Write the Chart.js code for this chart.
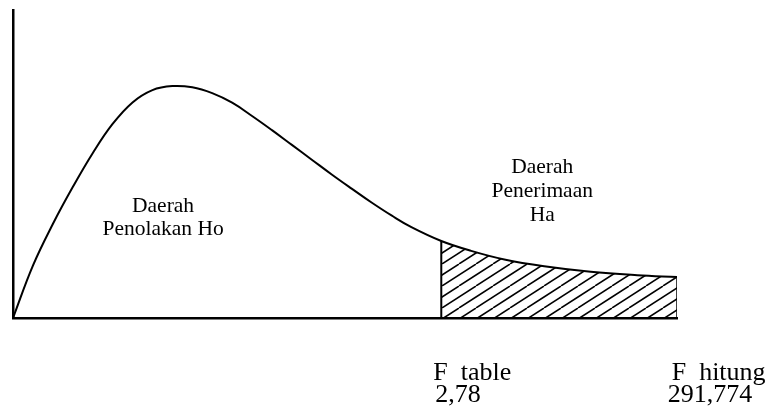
<!DOCTYPE html>
<html>
<head>
<meta charset="utf-8">
<script src="https://cdn.jsdelivr.net/npm/chart.js@4/dist/chart.umd.min.js"></script>
<style>
  html, body { margin: 0; padding: 0; background: #fff; }
  #wrap { width: 771px; height: 407px; }
</style>
</head>
<body>
<div id="wrap"><canvas id="fChart"></canvas></div>
<script>
// curve (x: 0..10, y: 0..100)
var curveX = [0, 0.3, 0.6, 0.9, 1.2, 1.5, 1.8, 2.1, 2.4, 2.7, 3.0, 3.3, 3.6, 3.9,
  4.2, 4.5, 4.8, 5.1, 5.4, 5.7, 6.0, 6.45, 6.9, 7.4, 8.0, 8.7, 9.4, 10.0];
var curveY = [0, 17, 30.5, 42.5, 53.5, 63, 70, 74, 75.3, 74.9, 73, 69.9, 65.6, 61,
  56.2, 51.4, 46.6, 42, 37.5, 33.3, 29.5, 25.0, 21.8, 19.0, 16.8, 15.0, 13.9, 13.3];

var fTable = 6.45;   // F table 2,78
var fHitung = 10.0;  // F hitung 291,774

// text labels
var labelText = ["Daerah", "Penolakan Ho", "Daerah", "Penerimaan", "Ha",
  "F  table", "2,78", "F  hitung", "291,774"];
var labelX = [2.26, 2.26, 7.97, 7.97, 7.97, 6.33, 6.36, 9.92, 9.86];
var labelY = [34.4, 26.9, 47.1, 39.3, 31.5, -20.1, -27.3, -20.1, -27.3];
var labelAlign = ["center", "center", "center", "center", "center", "left", "left", "left", "left"];
var labelSize = [21.5, 21.5, 21.5, 21.5, 21.5, 26, 26, 26, 26];

var curve = curveX.map(function (x, i) { return { x: x, y: curveY[i] }; });
var tail = curve.filter(function (p) { return p.x >= fTable; });
var cutY = curveY[curveX.indexOf(fTable)];
var endY = curveY[curveY.length - 1];

// hatch pattern
function hatch() {
  var w = 34, h = 22;
  var c = document.createElement("canvas");
  c.width = w; c.height = h;
  var g = c.getContext("2d");
  g.strokeStyle = "#000";
  g.lineWidth = 1.5;
  for (var k = -3; k <= 3; k++) {
    g.beginPath();
    g.moveTo(k * w / 2, h);
    g.lineTo(k * w / 2 + w, 0);
    g.stroke();
  }
  return g.createPattern(c, "repeat");
}

var textPlugin = {
  id: "areaText",
  afterDraw: function (chart) {
    var ctx = chart.ctx;
    var xs = chart.scales.x, ys = chart.scales.y;
    ctx.save();
    ctx.fillStyle = "#000";
    ctx.textBaseline = "alphabetic";
    labelText.forEach(function (t, i) {
      ctx.font = labelSize[i] + "px 'Liberation Serif', 'Times New Roman', serif";
      ctx.textAlign = labelAlign[i];
      ctx.fillText(t, xs.getPixelForValue(labelX[i]), ys.getPixelForValue(labelY[i]));
    });
    ctx.restore();
  }
};

var ctx = document.getElementById("fChart").getContext("2d");
var myChart = new Chart(ctx, {
  type: "line",
  data: {
    datasets: [
      {
        data: tail,
        borderWidth: 0,
        borderColor: "rgba(0,0,0,0)",
        backgroundColor: hatch(),
        fill: "origin",
        pointRadius: 0,
        tension: 0.4
      },
      {
        data: curve,
        borderColor: "#000",
        borderWidth: 2,
        pointRadius: 0,
        fill: false,
        tension: 0.4
      },
      {
        data: [{ x: fTable, y: 0 }, { x: fTable, y: cutY }],
        borderColor: "#000",
        borderWidth: 2,
        pointRadius: 0,
        fill: false
      },
      {
        data: [{ x: fHitung, y: 0 }, { x: fHitung, y: endY }],
        borderColor: "#000",
        borderWidth: 1.5,
        pointRadius: 0,
        fill: false
      }
    ]
  },
  options: {
    responsive: true,
    maintainAspectRatio: false,
    animation: false,
    layout: { padding: { left: 5, right: 94, top: 10, bottom: 81 } },
    plugins: {
      legend: { display: false },
      tooltip: { enabled: false }
    },
    scales: {
      x: {
        type: "linear",
        min: 0,
        max: 10,
        grid: { display: false },
        ticks: { display: false },
        border: { display: true, color: "#000", width: 2.5 }
      },
      y: {
        min: 0,
        max: 100,
        grid: { display: false },
        ticks: { display: false },
        border: { display: true, color: "#000", width: 2.5 }
      }
    }
  },
  plugins: [textPlugin]
});
</script>
</body>
</html>
